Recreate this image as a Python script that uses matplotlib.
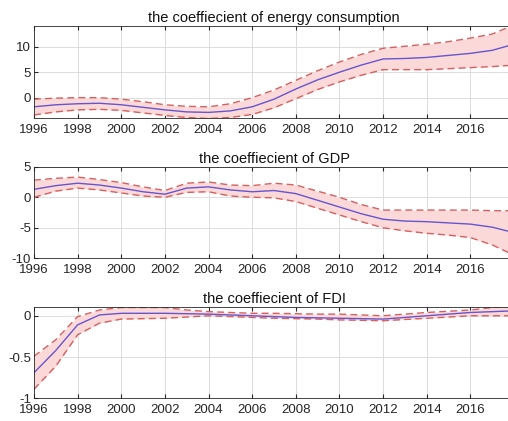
import numpy as np
import matplotlib.pyplot as plt

years = list(range(1996, 2019))

# coefficient of energy consumption
energy_mid = [-1.8, -1.4, -1.2, -1.1, -1.4, -1.9, -2.4, -2.8, -2.9, -2.6, -1.8, -0.3,
              1.7, 3.5, 5.0, 6.4, 7.6, 7.7, 7.9, 8.3, 8.7, 9.3, 10.5]
energy_up = [-0.3, -0.1, 0.0, 0.0, -0.3, -0.8, -1.4, -1.7, -1.8, -1.2, 0.0, 1.5,
             3.4, 5.3, 7.0, 8.5, 9.7, 10.1, 10.5, 11.0, 11.7, 12.5, 14.3]
energy_low = [-3.4, -2.8, -2.4, -2.3, -2.5, -3.0, -3.5, -3.9, -4.1, -3.9, -3.3, -2.0,
              -0.2, 1.6, 3.1, 4.4, 5.5, 5.5, 5.5, 5.7, 5.9, 6.1, 6.4]

# coefficient of GDP
gdp_mid = [1.3, 1.9, 2.3, 2.0, 1.5, 0.9, 0.5, 1.5, 1.7, 1.2, 0.9, 1.1,
           0.6, -0.5, -1.6, -2.7, -3.6, -3.9, -4.0, -4.2, -4.4, -4.9, -5.8]
gdp_up = [2.8, 3.1, 3.3, 2.9, 2.4, 1.7, 1.1, 2.3, 2.5, 2.0, 1.9, 2.3,
          2.0, 1.0, 0.0, -1.2, -2.1, -2.1, -2.1, -2.1, -2.1, -2.2, -2.2]
gdp_low = [0.0, 1.0, 1.5, 1.2, 0.7, 0.2, 0.0, 0.8, 0.9, 0.2, 0.0, -0.1,
           -0.7, -1.8, -2.9, -4.0, -5.0, -5.5, -5.9, -6.2, -6.6, -7.8, -9.5]

# coefficient of FDI
fdi_mid = [-0.69, -0.42, -0.11, 0.01, 0.03, 0.03, 0.03, 0.025, 0.02, 0.01, 0.0, -0.01,
           -0.02, -0.025, -0.03, -0.035, -0.04, -0.02, 0.0, 0.02, 0.04, 0.05, 0.06]
fdi_up = [-0.49, -0.29, -0.01, 0.07, 0.10, 0.10, 0.10, 0.07, 0.05, 0.04, 0.03, 0.03,
          0.025, 0.02, 0.02, 0.01, 0.0, 0.02, 0.04, 0.055, 0.07, 0.10, 0.13]
fdi_low = [-0.89, -0.61, -0.23, -0.09, -0.04, -0.035, -0.03, -0.015, 0.0, -0.01, -0.02, -0.03,
           -0.035, -0.04, -0.05, -0.055, -0.06, -0.045, -0.03, -0.015, 0.0, 0.0, 0.0]

titles = ['the coeffiecient of energy consumption', 'the coeffiecient of GDP',
          'the coeffiecient of FDI']
ylims = [(-4, 14), (-10, 5), (-1, 0.11)]
yticks = [[0, 5, 10], [-10, -5, 0, 5], [-1, -0.5, 0]]
yticklabels = [['0', '5', '10'], ['-10', '-5', '0', '5'], ['-1', '-0.5', '0']]
xticks = list(range(1996, 2018, 2))

plt.rcParams['font.family'] = ['Liberation Sans', 'DejaVu Sans']

fig = plt.figure(figsize=(5.08, 4.21), dpi=100)
bottoms = [0.7197, 0.3864, 0.0539]
series = [(energy_mid, energy_up, energy_low),
          (gdp_mid, gdp_up, gdp_low),
          (fdi_mid, fdi_up, fdi_low)]

for i, (mid, up, low) in enumerate(series):
    # axes run a little past the right edge, like the cropped original
    ax = fig.add_axes([0.0669, bottoms[i], 0.945, 0.2176])
    ax.fill_between(years, low, up, color='#fcd9d9', linewidth=0)
    ax.plot(years, up, '--', color='#d65f5f', linewidth=1.0, dashes=(5, 3))
    ax.plot(years, low, '--', color='#d65f5f', linewidth=1.0, dashes=(5, 3))
    ax.plot(years, mid, '-', color='#6655cc', linewidth=1.0)
    ax.set_xlim(1996, 2018)
    ax.set_ylim(*ylims[i])
    ax.set_xticks(xticks)
    ax.set_yticks(yticks[i])
    ax.set_yticklabels(yticklabels[i])
    ax.grid(True, color='#dddddd', linewidth=0.7)
    ax.set_axisbelow(True)
    ax.tick_params(direction='in', length=3, labelsize=9.5, colors='#262626',
                   top=True, right=True)
    ax.tick_params(axis='x', pad=4)
    ax.tick_params(axis='y', pad=2)
    for s in ax.spines.values():
        s.set_color('#262626')
        s.set_linewidth(0.6)
    ax.set_title(titles[i], fontsize=10.5, pad=3, color='#111111')

fig.savefig('out.png', dpi=100)
